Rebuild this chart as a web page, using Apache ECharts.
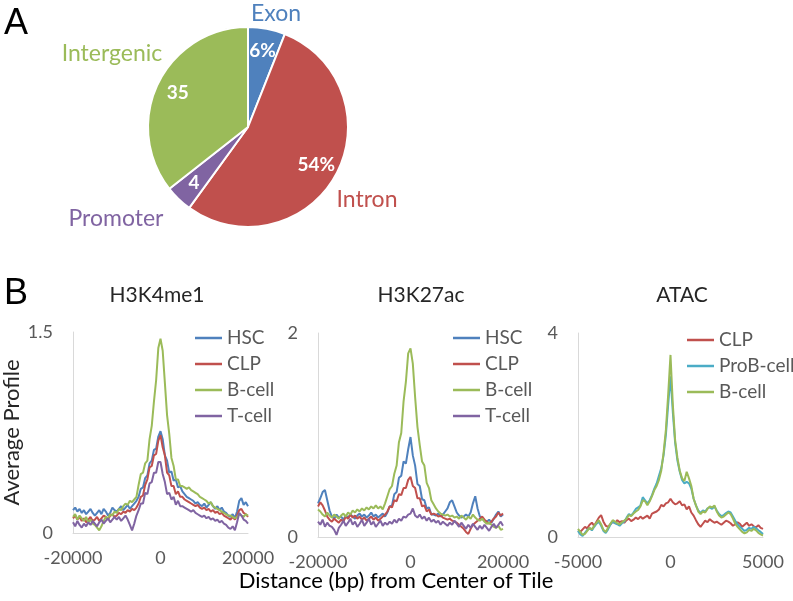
<!DOCTYPE html>
<html>
<head>
<meta charset="utf-8">
<script src="https://cdn.jsdelivr.net/npm/echarts@6/dist/echarts.min.js"></script>
<style>
  html, body { margin: 0; padding: 0; background: #fff; }
  #main { width: 793px; height: 601px; }
</style>
</head>
<body>
<div id="main"></div>
<script>
// ---- pie (A) ----
var pieNames = ['Exon', 'Intron', 'Promoter', 'Intergenic'];
var pieValues = [6, 54, 4.4, 35.6];
var pieLabels = ['6%', '54%', '4', '35'];
var pieColors = ['#4F81BD', '#C0504D', '#8064A2', '#9BBB59'];

// ---- line panels (B) ----
// sample positions (bp); step 500 for the histone panels, 125 for ATAC
var xsWide = [];
for (var i = 0; i <= 80; i++) xsWide.push(-20000 + 500 * i);
var xsAtac = [];
for (var j = 0; j <= 80; j++) xsAtac.push(-5000 + 125 * j);

var k4HSC = [0.17,0.19,0.16,0.18,0.15,0.17,0.14,0.16,0.18,0.15,
  0.13,0.15,0.17,0.14,0.18,0.16,0.13,0.15,0.19,0.17,
  0.16,0.18,0.2,0.17,0.19,0.21,0.18,0.2,0.22,0.24,
  0.27,0.33,0.34,0.41,0.43,0.52,0.54,0.62,0.63,0.72,
  0.76,0.7,0.58,0.54,0.45,0.46,0.39,0.4,0.34,0.35,
  0.31,0.29,0.27,0.26,0.25,0.24,0.22,0.23,0.21,0.2,
  0.22,0.19,0.21,0.23,0.2,0.18,0.2,0.17,0.19,0.16,
  0.15,0.13,0.12,0.14,0.11,0.16,0.24,0.26,0.21,0.23,
  0.2];
var k4CLP = [0.11,0.13,0.1,0.12,0.09,0.11,0.08,0.1,0.12,0.09,
  0.1,0.12,0.09,0.11,0.13,0.12,0.1,0.13,0.14,0.12,
  0.13,0.15,0.14,0.16,0.15,0.17,0.16,0.18,0.17,0.19,
  0.22,0.27,0.28,0.36,0.4,0.49,0.5,0.58,0.59,0.69,
  0.73,0.64,0.58,0.45,0.43,0.35,0.35,0.29,0.31,0.27,
  0.27,0.25,0.24,0.23,0.22,0.21,0.2,0.21,0.19,0.18,
  0.19,0.17,0.18,0.16,0.17,0.15,0.16,0.14,0.15,0.13,
  0.12,0.11,0.1,0.12,0.1,0.13,0.17,0.18,0.15,0.14,
  0.12];
var k4B = [0.12,0.14,0.1,0.13,0.11,0.09,0.12,0.08,0.1,0.07,
  0.06,0.04,0.02,0.05,0.09,0.12,0.11,0.14,0.13,0.16,
  0.15,0.18,0.17,0.2,0.22,0.21,0.24,0.23,0.25,0.27,
  0.36,0.44,0.45,0.52,0.54,0.7,0.8,0.98,1.14,1.38,
  1.45,1.36,1.12,0.88,0.74,0.56,0.5,0.4,0.4,0.35,
  0.35,0.34,0.33,0.34,0.32,0.31,0.3,0.29,0.27,0.26,
  0.25,0.24,0.22,0.23,0.2,0.19,0.18,0.17,0.16,0.15,
  0.14,0.13,0.13,0.12,0.11,0.12,0.14,0.13,0.12,0.14,
  0.13];
var k4T = [0.08,0.05,0.09,0.06,0.04,0.07,0.05,0.08,0.06,0.09,
  0.07,0.05,0.08,0.1,0.07,0.09,0.11,0.08,0.1,0.12,
  0.1,0.12,0.09,0.11,0.13,0.1,0.06,0.02,0.07,0.13,
  0.17,0.22,0.22,0.3,0.29,0.37,0.38,0.45,0.45,0.53,
  0.53,0.44,0.38,0.29,0.3,0.25,0.27,0.21,0.24,0.2,
  0.2,0.19,0.18,0.17,0.16,0.17,0.15,0.14,0.13,0.12,
  0.13,0.11,0.12,0.1,0.11,0.09,0.1,0.08,0.09,0.07,
  0.06,0.04,0.03,0.05,0.02,0.08,0.15,0.13,0.1,0.09,
  0.07];

var acHSC = [0.33,0.38,0.44,0.46,0.36,0.26,0.2,0.18,0.22,0.19,
  0.2,0.17,0.21,0.19,0.22,0.2,0.18,0.21,0.23,0.2,
  0.22,0.19,0.21,0.24,0.2,0.22,0.19,0.21,0.23,0.2,
  0.24,0.3,0.31,0.42,0.44,0.58,0.6,0.74,0.72,0.86,
  0.98,0.8,0.7,0.52,0.5,0.37,0.36,0.28,0.29,0.22,
  0.22,0.21,0.23,0.2,0.22,0.25,0.28,0.34,0.36,0.3,
  0.24,0.21,0.19,0.2,0.22,0.2,0.24,0.33,0.4,0.28,
  0.2,0.18,0.16,0.15,0.17,0.14,0.18,0.22,0.25,0.2,
  0.22];
var acCLP = [0.3,0.34,0.31,0.26,0.2,0.17,0.15,0.18,0.16,0.14,
  0.17,0.15,0.2,0.18,0.22,0.19,0.21,0.18,0.2,0.17,
  0.19,0.16,0.18,0.2,0.17,0.19,0.16,0.18,0.2,0.22,
  0.25,0.3,0.29,0.36,0.35,0.42,0.41,0.48,0.48,0.56,
  0.59,0.5,0.48,0.38,0.38,0.3,0.31,0.25,0.27,0.22,
  0.23,0.22,0.2,0.21,0.19,0.18,0.17,0.18,0.16,0.15,
  0.14,0.12,0.1,0.08,0.05,0.03,0.08,0.12,0.14,0.16,
  0.18,0.2,0.17,0.15,0.13,0.15,0.18,0.2,0.24,0.21,
  0.23];
var acB = [0.27,0.25,0.22,0.2,0.24,0.21,0.19,0.22,0.2,0.18,
  0.21,0.23,0.2,0.24,0.22,0.26,0.24,0.27,0.25,0.28,
  0.26,0.29,0.27,0.3,0.28,0.31,0.28,0.3,0.27,0.33,
  0.4,0.47,0.5,0.62,0.7,0.93,1.02,1.33,1.52,1.8,
  1.85,1.7,1.37,1.08,0.9,0.74,0.7,0.53,0.48,0.36,
  0.32,0.28,0.25,0.23,0.22,0.21,0.22,0.2,0.21,0.19,
  0.2,0.18,0.21,0.19,0.17,0.2,0.18,0.22,0.19,0.17,
  0.16,0.18,0.15,0.13,0.14,0.12,0.1,0.09,0.11,0.07,
  0.08];
var acT = [0.15,0.12,0.17,0.1,0.14,0.11,0.1,0.07,0.02,0.09,
  0.12,0.16,0.11,0.14,0.18,0.12,0.15,0.1,0.13,0.17,
  0.11,0.14,0.18,0.12,0.15,0.1,0.13,0.16,0.11,0.14,
  0.12,0.15,0.13,0.17,0.14,0.18,0.16,0.2,0.19,0.22,
  0.23,0.28,0.21,0.19,0.22,0.18,0.2,0.16,0.19,0.15,
  0.17,0.14,0.16,0.12,0.15,0.13,0.11,0.14,0.12,0.16,
  0.13,0.1,0.14,0.11,0.08,0.12,0.09,0.13,0.1,0.07,
  0.11,0.08,0.12,0.09,0.06,0.1,0.13,0.09,0.12,0.15,
  0.11];

var atacCLP = [0.13,0.1,0.15,0.2,0.17,0.24,0.28,0.22,0.3,0.38,
  0.43,0.3,0.22,0.2,0.25,0.3,0.27,0.33,0.29,0.31,
  0.28,0.33,0.36,0.31,0.34,0.38,0.35,0.4,0.36,0.39,
  0.42,0.36,0.46,0.48,0.5,0.54,0.63,0.6,0.66,0.68,
  0.75,0.68,0.64,0.66,0.7,0.62,0.64,0.54,0.6,0.48,
  0.42,0.33,0.25,0.2,0.26,0.32,0.29,0.35,0.31,0.28,
  0.3,0.27,0.24,0.28,0.32,0.3,0.27,0.22,0.25,0.29,
  0.26,0.2,0.24,0.28,0.22,0.25,0.21,0.19,0.23,0.18,
  0.16];
var atacProB = [0.12,0.05,0.02,0.08,0.14,0.17,0.13,0.2,0.26,0.3,
  0.22,0.12,0.08,0.15,0.24,0.3,0.27,0.25,0.22,0.27,
  0.3,0.38,0.45,0.42,0.48,0.55,0.58,0.62,0.78,0.72,
  0.66,0.72,0.82,0.95,1.05,1.2,1.35,1.6,2.0,2.6,
  3.15,2.45,1.85,1.5,1.28,1.12,1.05,1.08,1.05,0.95,
  0.75,0.62,0.52,0.47,0.52,0.5,0.56,0.58,0.55,0.6,
  0.52,0.45,0.41,0.43,0.47,0.5,0.48,0.4,0.32,0.25,
  0.2,0.16,0.12,0.14,0.18,0.16,0.2,0.17,0.13,0.1,
  0.06];
var atacB = [0.16,0.1,0.04,0.06,0.12,0.18,0.15,0.22,0.28,0.33,
  0.25,0.14,0.1,0.18,0.26,0.33,0.3,0.27,0.25,0.29,
  0.32,0.36,0.43,0.41,0.46,0.5,0.53,0.6,0.72,0.7,
  0.62,0.7,0.8,0.92,1.0,1.12,1.3,1.65,2.1,2.8,
  3.57,2.6,1.9,1.55,1.3,1.15,1.1,1.28,1.15,1.0,
  0.75,0.62,0.5,0.45,0.5,0.48,0.55,0.6,0.58,0.62,
  0.5,0.42,0.38,0.4,0.44,0.48,0.45,0.36,0.26,0.2,
  0.15,0.1,0.07,0.09,0.14,0.12,0.16,0.13,0.08,0.05,
  0.03];

var colHSC = '#4F81BD', colCLP = '#C0504D', colB = '#9BBB59', colT = '#8064A2', colProB = '#4BACC6';
var FONT = 'Lato';

function pairs(xs, ys) {
  return ys.map(function (y, i) { return [xs[i], y]; });
}
function line(name, color, idx, xs, ys) {
  return {
    name: name, type: 'line', xAxisIndex: idx, yAxisIndex: idx,
    data: pairs(xs, ys), symbol: 'none', silent: true,
    lineStyle: { color: color, width: 2 }, itemStyle: { color: color }
  };
}
function plain(v) { return String(v); }
function xAx(idx, min, max, step) {
  return {
    type: 'value', gridIndex: idx, min: min, max: max, interval: step,
    axisLine: { show: true, onZero: false, lineStyle: { color: '#d9d9d9', width: 1 } },
    axisTick: { show: false }, splitLine: { show: false },
    axisLabel: { color: '#595959', fontSize: 18, fontFamily: FONT, margin: 16, formatter: plain,
      showMinLabel: true, showMaxLabel: true, hideOverlap: false }
  };
}
function yAx(idx, max) {
  return {
    type: 'value', gridIndex: idx, min: 0, max: max, interval: max,
    axisLine: { show: true, onZero: false, lineStyle: { color: '#d9d9d9', width: 1 } },
    axisTick: { show: false }, splitLine: { show: false },
    axisLabel: { color: '#595959', fontSize: 18, fontFamily: FONT, margin: 20, formatter: plain }
  };
}
function legend(left, top, names) {
  return {
    orient: 'vertical', left: left, top: top, data: names,
    icon: 'rect', itemWidth: 27, itemHeight: 2.5, itemGap: 0, itemTextGap: 3,
    textStyle: { color: '#595959', fontSize: 19, fontFamily: FONT, lineHeight: 26 },
    selectedMode: false
  };
}

var namePos = [[276, 14], [367, 200], [116, 219], [112, 54]];

var chart = echarts.init(document.getElementById('main'), null, { renderer: 'canvas' });
chart.setOption({
  animation: false,
  textStyle: { fontFamily: FONT },
  graphic: [
    { type: 'text', x: 16, y: 24, style: { text: 'A', font: '36px "Liberation Sans"', fill: '#000', textAlign: 'center', textVerticalAlign: 'middle' } },
    { type: 'text', x: 16, y: 294, style: { text: 'B', font: '36px "Liberation Sans"', fill: '#000', textAlign: 'center', textVerticalAlign: 'middle' } },
    { type: 'text', x: 157, y: 295, style: { text: 'H3K4me1', font: '21px ' + FONT, fill: '#262626', textAlign: 'center', textVerticalAlign: 'middle' } },
    { type: 'text', x: 421, y: 295, style: { text: 'H3K27ac', font: '21px ' + FONT, fill: '#262626', textAlign: 'center', textVerticalAlign: 'middle' } },
    { type: 'text', x: 682, y: 295, style: { text: 'ATAC', font: '21px ' + FONT, fill: '#262626', textAlign: 'center', textVerticalAlign: 'middle' } },
    { type: 'text', x: 396, y: 581, style: { text: 'Distance (bp) from Center of Tile', font: '22px ' + FONT, fill: '#000', textAlign: 'center', textVerticalAlign: 'middle' } }
  ],
  grid: [
    { left: 72, top: 332, width: 176, height: 201 },
    { left: 318, top: 333, width: 185, height: 204 },
    { left: 578, top: 333, width: 185, height: 204 }
  ],
  xAxis: [xAx(0, -20000, 20000, 20000), xAx(1, -20000, 20000, 20000), xAx(2, -5000, 5000, 5000)],
  yAxis: [
    Object.assign(yAx(0, 1.5), {
      name: 'Average Profile', nameLocation: 'middle', nameGap: 50, nameRotate: 90,
      nameTextStyle: { color: '#262626', fontSize: 22, fontFamily: FONT }
    }),
    yAx(1, 2), yAx(2, 4)
  ],
  legend: [
    legend(190, 320, ['HSC', 'CLP', 'B-cell', 'T-cell']),
    legend(448, 320, ['HSC', 'CLP', 'B-cell', 'T-cell']),
    legend(682, 322, ['CLP', 'ProB-cell', 'B-cell'])
  ],
  series: [
    {
      type: 'pie', center: [248, 127], radius: 100, startAngle: 90, silent: true,
      data: pieNames.map(function (n, i) {
        return { name: n, value: pieValues[i], itemStyle: { color: pieColors[i] }, label: { color: pieColors[i] } };
      }),
      itemStyle: { borderColor: '#fff', borderWidth: 2 },
      label: { show: true, position: 'outside', formatter: '{b}', fontSize: 23, fontFamily: FONT, overflow: 'none' },
      labelLine: { show: false },
      labelLayout: function (p) {
        var q = namePos[p.dataIndex];
        return { x: q[0], y: q[1], align: 'center', verticalAlign: 'middle' };
      }
    },
    {
      type: 'pie', center: [248, 127], radius: [50, 100], startAngle: 90, silent: true,
      data: pieNames.map(function (n, i) { return { name: n + ' ', value: pieValues[i] }; }),
      itemStyle: { color: 'rgba(0,0,0,0)', borderWidth: 0 },
      label: {
        show: true, position: 'inside', color: '#fff', fontWeight: 'bold', fontSize: 19, fontFamily: FONT,
        formatter: function (p) { return pieLabels[p.dataIndex]; }
      },
      labelLine: { show: false }
    },
    line('HSC', colHSC, 0, xsWide, k4HSC),
    line('CLP', colCLP, 0, xsWide, k4CLP),
    line('B-cell', colB, 0, xsWide, k4B),
    line('T-cell', colT, 0, xsWide, k4T),
    line('HSC', colHSC, 1, xsWide, acHSC),
    line('CLP', colCLP, 1, xsWide, acCLP),
    line('B-cell', colB, 1, xsWide, acB),
    line('T-cell', colT, 1, xsWide, acT),
    line('CLP', colCLP, 2, xsAtac, atacCLP),
    line('ProB-cell', colProB, 2, xsAtac, atacProB),
    line('B-cell', colB, 2, xsAtac, atacB)
  ]
});
</script>
</body>
</html>
